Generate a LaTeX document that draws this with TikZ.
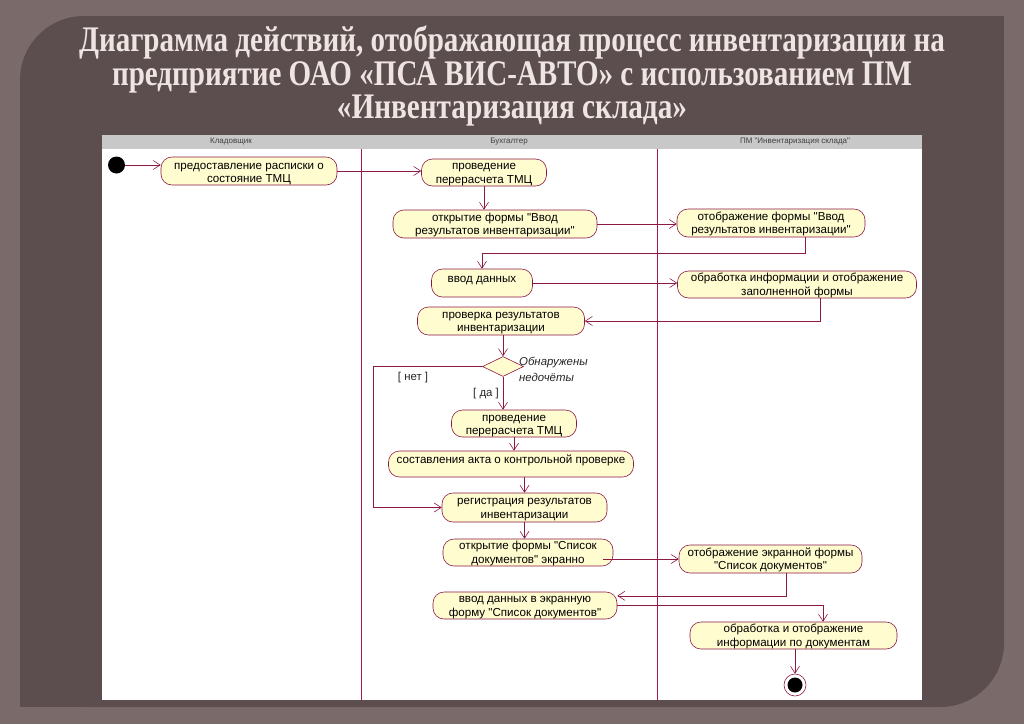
\documentclass[tikz,border=0pt]{standalone}
\usepackage{fontspec}
\usepackage{graphicx}
\usetikzlibrary{arrows.meta,shapes.geometric}
\newfontfamily\sansf{Liberation Sans}
\newfontfamily\titlef{Liberation Serif}
\definecolor{outerC}{RGB}{122,106,106}
\definecolor{panelC}{RGB}{92,78,78}
\definecolor{titleC}{RGB}{238,228,226}
\definecolor{lineC}{RGB}{140,24,70}
\definecolor{laneC}{RGB}{170,24,84}
\definecolor{fillC}{RGB}{255,252,208}
\definecolor{headC}{RGB}{200,200,200}
% two-line text: last baseline placed #1 below the node centre
\newcommand\twoline[3][10.5pt]{\raisebox{-#1}[0pt][0pt]{\begin{tabular}[b]{@{}c@{}}#2\\#3\end{tabular}}}
\newcommand\oneline[1]{\raisebox{1pt}[0pt][0pt]{#1}}
\begin{document}
\begin{tikzpicture}[x=1pt,y=-1pt,
  title/.style={anchor=base, text=titleC, inner sep=0pt, font=\titlef\bfseries\fontsize{30}{30}\selectfont},
  act/.style={draw=lineC, fill=fillC, line width=0.6pt, rounded corners=11pt, inner sep=0pt,
    font=\sansf\fontsize{11.6}{13.2}\selectfont},
  dec/.style={diamond, draw=lineC, fill=fillC, line width=0.6pt, inner sep=0pt, minimum width=41pt, minimum height=20pt},
  lbl/.style={inner sep=0pt, font=\sansf\fontsize{11.4}{15.5}\selectfont, text=black!85},
  head/.style={inner sep=0pt, font=\sansf\fontsize{8}{9}\selectfont, text=black!75},
  flow/.style={draw=lineC, line width=0.6pt, -{Straight Barb[length=7pt,width=9pt]}},
  lane/.style={draw=laneC, line width=0.9pt}
]
\useasboundingbox (0,0) rectangle (1024,724);
% background
\fill[outerC] (0,0) rectangle (1024,724);
\fill[panelC, rounded corners=64pt] (20,16) rectangle (1004,707);
\fill[panelC] (880,16) rectangle (1004,140);
\fill[panelC] (20,580) rectangle (140,707);
% title
\node[title] (t1) at (512,51) {\resizebox{866pt}{1.2\height}{Диаграмма действий, отображающая процесс инвентаризации на}};
\node[title] (t2) at (512,85) {\resizebox{800pt}{1.2\height}{предприятие ОАО «ПСА ВИС-АВТО» с использованием ПМ}};
\node[title] (t3) at (512,118) {\resizebox{350pt}{1.2\height}{«Инвентаризация склада»}};
% diagram area
\fill[white] (102,135) rectangle (922,700);
\fill[headC] (102,135) rectangle (922,149);
\draw[lane] (361,149) -- (361,700);
\draw[lane, line width=0.6pt] (657,149) -- (657,700);
\node[head] (h1) at (231,142) {Кладовщик};
\node[head] (h2) at (509,142) {Бухгалтер};
\node[head] (h3) at (795,142) {ПМ "Инвентаризация склада"};
% nodes
\node[circle, fill=black, minimum size=17pt, inner sep=0pt] (init) at (116.5,165) {};
\node[act, minimum width=176pt, minimum height=28pt] (A1) at (249,171) {\twoline[11.5pt]{предоставление расписки о}{состояние ТМЦ}};
\node[act, minimum width=125pt, minimum height=27pt] (B1) at (484,172.5) {\twoline{проведение}{перерасчета ТМЦ}};
\node[act, minimum width=204pt, minimum height=28pt] (B2) at (495,224) {\twoline{открытие формы "Ввод}{результатов инвентаризации"}};
\node[act, minimum width=188pt, minimum height=28pt] (C1) at (771,223) {\twoline{отображение формы "Ввод}{результатов инвентаризации"}};
\node[act, minimum width=101pt, minimum height=28pt] (B3) at (482,283) {\oneline{ввод данных}};
\node[act, minimum width=239pt, minimum height=27pt] (C2) at (797,284.5) {\twoline{обработка информации и отображение}{заполненной формы}};
\node[act, minimum width=167pt, minimum height=28pt] (B4) at (501,321) {\twoline{проверка результатов}{инвентаризации}};
\node[dec] (D) at (503,366.5) {};
\node[lbl, anchor=north west, align=left, font=\sansf\itshape\fontsize{11.4}{15.5}\selectfont] (Dl) at (519,357) {Обнаружены\\недочёты};
\node[lbl] (no) at (413,378) {[ нет ]};
\node[lbl] (yes) at (486,394) {[ да ]};
\node[act, minimum width=125pt, minimum height=27pt] (B5) at (514,423.5) {\twoline[11pt]{проведение}{перерасчета ТМЦ}};
\node[act, minimum width=245pt, minimum height=26pt] (B6) at (511,464) {\oneline{составления акта о контрольной проверке}};
\node[act, minimum width=165pt, minimum height=29pt] (B7) at (524.5,507.5) {\twoline{регистрация результатов}{инвентаризации}};
\node[act, minimum width=170pt, minimum height=27pt] (B8) at (528,552.5) {\twoline{открытие формы "Список}{документов" экранно}};
\node[act, minimum width=183pt, minimum height=28pt] (C3) at (770.5,559) {\twoline{отображение экранной формы}{"Список документов"}};
\node[act, minimum width=184pt, minimum height=27pt] (B9) at (525,605.5) {\twoline{ввод данных в экранную}{форму "Список документов"}};
\node[act, minimum width=207pt, minimum height=27pt] (C4) at (793.5,635.5) {\twoline{обработка и отображение}{информации по документам}};
\node[circle, draw=lineC, fill=white, line width=0.6pt, minimum size=22pt, inner sep=0pt,
  path picture={\fill[black] (path picture bounding box.center) circle (7.5pt);}] (fin) at (795,685) {};
% connectors
\draw[flow] (init) -- (init -| A1.west);
\draw[flow] (A1.east) -- (A1.east -| B1.west);
\draw[flow] (B1.south) -- (B1.south |- B2.north);
\draw[flow] (B2.east) -- (B2.east -| C1.west);
\coordinate (k1) at (805,253);
\draw[flow] (C1.south -| k1) -- (k1) -| (B3.north);
\draw[flow] (B3.east) -- (B3.east -| C2.west);
\draw[flow] ([xshift=23pt]C2.south) |- (B4.east);
\draw[flow] (D.north |- B4.south) -- (D.north);
\coordinate (k2) at (373,440);
\draw[flow] (D.west) -- (D.west -| k2) |- (B7.west);
\draw[flow] (D.south) -- (D.south |- B5.north);
\draw[flow] (B5.south) -- (B5.south |- B6.north);
\draw[flow] (B7.north |- B6.south) -- (B7.north);
\draw[flow] (B7.south) -- (B7.south |- B8.north);
\draw[flow] ([xshift=-10pt]B8.east |- C3.west) -- (C3.west);
\draw[flow] ([xshift=16pt]C3.south) |- (B9.6);
\draw[flow] (B9.east) -| ([xshift=29.5pt]C4.north);
\draw[flow] (C4.south -| fin) -- (fin.north);
\end{tikzpicture}
\end{document}
